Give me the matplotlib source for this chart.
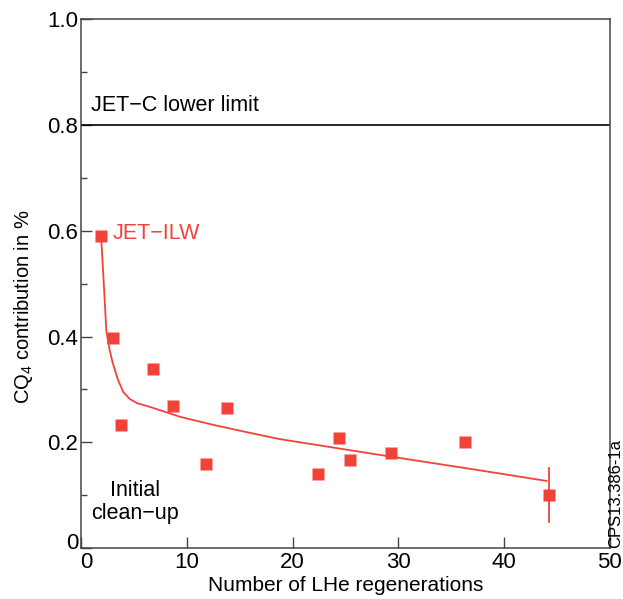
import matplotlib
matplotlib.use("Agg")
import matplotlib.pyplot as plt
from matplotlib.transforms import ScaledTranslation

plt.rcParams['font.family'] = ['Liberation Sans', 'DejaVu Sans']
plt.rcParams['mathtext.fontset'] = 'custom'
plt.rcParams['mathtext.rm'] = 'Liberation Sans'
plt.rcParams['mathtext.it'] = 'Liberation Sans'

# measured JET-ILW points (regenerations, CQ4 %)
regen = [1.9, 3.0, 3.8, 6.8, 8.7, 11.8, 13.8, 22.4, 24.4, 25.4, 29.3, 36.3, 44.2]
cq4 = [0.590, 0.397, 0.233, 0.338, 0.268, 0.159, 0.265, 0.140, 0.208, 0.166, 0.180, 0.200, 0.100]

# error bar on the last point
err_x = 44.2
err_lo = 0.049
err_hi = 0.151

# fitted trend line
fit_x = [1.9, 2.1, 2.4, 2.7, 3.0, 3.5, 4.0, 4.6, 5.3, 6.5, 9.4, 12.5, 15.7, 18.8, 28.3, 37.7, 44.0]
fit_y = [0.590, 0.520, 0.410, 0.375, 0.350, 0.318, 0.295, 0.282, 0.274, 0.267, 0.248, 0.233, 0.219, 0.206, 0.176, 0.147, 0.127]

jet_c_limit = 0.8

red = '#f2433b'
spine_col = '#444444'

fig = plt.figure(figsize=(6.23, 5.99), dpi=100)
ax = fig.add_axes([0.130, 0.085, 0.849, 0.883])

ax.axhline(jet_c_limit, color='black', lw=1.2)
ax.plot(fit_x, fit_y, '-', color=red, lw=1.3)
ax.plot([err_x, err_x], [err_lo, err_hi], '-', color=red, lw=1.3)
ax.plot(regen, cq4, 's', color=red, ms=8.5, mec='none')

ax.text(0.95, 0.836, 'JET\u2212C lower limit', fontsize=15.5, va='center', ha='left')
ax.text(3.0, 0.595, 'JET\u2212ILW', fontsize=15.5, va='center', ha='left', color=red)
ax.text(5.1, 0.087, 'Initial\nclean\u2212up', fontsize=15.5, va='center', ha='center',
        linespacing=1.1)

ax.set_xlim(0, 50)
ax.set_ylim(0, 1.0)
ax.set_xticks([0, 10, 20, 30, 40, 50])
ax.set_yticks([0, 0.2, 0.4, 0.6, 0.8, 1.0])
ax.set_yticklabels(['0', '0.2', '0.4', '0.6', '0.8', '1.0'])
ax.set_yticks([0.1, 0.3, 0.5, 0.7, 0.9], minor=True)
ax.tick_params(axis='both', which='major', direction='in', length=8, width=1,
               color=spine_col, labelsize=16)
ax.tick_params(axis='y', which='major', pad=2)
ax.tick_params(axis='x', which='major', pad=3)
ax.tick_params(axis='y', which='minor', direction='in', length=4.5, width=1, color=spine_col)
for s in ax.spines.values():
    s.set_color(spine_col)
    s.set_linewidth(1.1)

# the two zero labels sit apart in the corner
ylab0 = ax.yaxis.get_major_ticks()[0].label1
ylab0.set_transform(ylab0.get_transform() + ScaledTranslation(0, 5 / 72, fig.dpi_scale_trans))
xlab0 = ax.xaxis.get_major_ticks()[0].label1
xlab0.set_transform(xlab0.get_transform() + ScaledTranslation(4 / 72, 0, fig.dpi_scale_trans))

ax.set_xlabel('Number of LHe regenerations', fontsize=15, labelpad=2)
ax.set_ylabel('CQ$_4$ contribution in %', fontsize=14.5)
ax.yaxis.set_label_coords(-0.087, 0.457)

fig.text(0.988, 0.085, 'CPS13.386-1a', rotation=90, fontsize=12, ha='center', va='bottom')

fig.savefig('out.png', dpi=100)
